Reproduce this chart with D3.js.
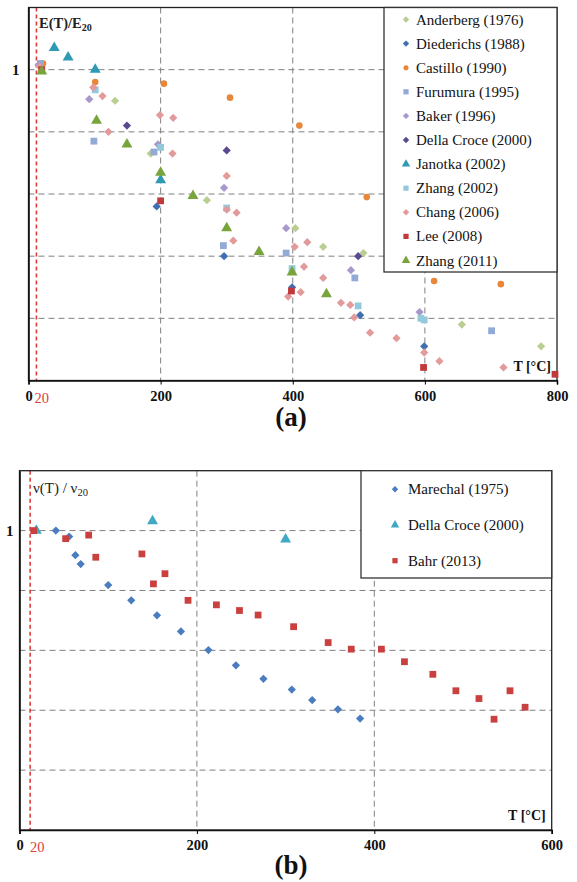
<!DOCTYPE html>
<html>
<head>
<meta charset="utf-8">
<script src="https://cdn.jsdelivr.net/npm/d3@7"></script>
<style>
  body { margin: 0; background: #fff; }
  svg { display: block; }
</style>
</head>
<body>
<script>
// ---- data: [T in °C, ratio] ----
// panel (a): E(T)/E20
var anderberg   = [[20, 1.0], [131, 0.90], [185, 0.73], [270, 0.58], [404, 0.49], [446, 0.43], [507, 0.41], [656, 0.18], [776, 0.11]];
var diederichs  = [[194, 0.56], [296, 0.40], [399, 0.30], [502, 0.21], [599, 0.11]];
var castillo    = [[22, 1.02], [101, 0.96], [205, 0.955], [305, 0.91], [410, 0.82], [512, 0.59], [614, 0.32], [715, 0.31]];
var furumura    = [[18, 1.02], [99, 0.77], [190, 0.735], [295, 0.434], [390, 0.41], [494, 0.33], [701, 0.16]];
var baker       = [[15, 1.015], [92, 0.905], [196, 0.76], [296, 0.62], [390, 0.49], [488, 0.355], [592, 0.22]];
var dellaCroceE = [[149, 0.82], [300, 0.74], [499, 0.40]];
var janotka     = [[39, 1.07], [60, 1.04], [101, 1.0], [200, 0.645]];
var zhang2002   = [[101, 0.935], [200, 0.75], [300, 0.555], [399, 0.36], [499, 0.24], [594, 0.20], [599, 0.195]];
var chang       = [[17, 1.01], [98, 0.943], [112, 0.915], [121, 0.80], [199, 0.854], [219, 0.845], [218, 0.73], [300, 0.658],
                   [300, 0.55], [315, 0.54], [310, 0.45], [403, 0.43], [422, 0.445], [417, 0.366], [446, 0.33], [412, 0.284],
                   [393, 0.27], [473, 0.25], [487, 0.243], [493, 0.203], [517, 0.154], [557, 0.136], [599, 0.09], [622, 0.062], [719, 0.042]];
var lee         = [[20, 1.0], [200, 0.578], [398, 0.288], [598, 0.042], [797, 0.02]];
var zhang2011   = [[20, 0.995], [103, 0.836], [149, 0.76], [200, 0.669], [249, 0.594], [300, 0.49], [349, 0.414], [399, 0.348], [451, 0.278]];

// panel (b): v(T)/v20
var marechal    = [[41, 1.0], [56, 0.98], [63, 0.918], [69, 0.888], [100, 0.818], [126, 0.767], [155, 0.717], [182, 0.663],
                   [213, 0.601], [244, 0.55], [275, 0.505], [307, 0.469], [330, 0.434], [359, 0.403], [384, 0.372]];
var dellaCroceV = [[19, 1.0], [150, 1.032], [300, 0.971]];
var bahr        = [[16, 1.0], [52, 0.973], [78, 0.985], [86, 0.911], [138, 0.922], [151, 0.822], [164, 0.856], [190, 0.767],
                   [222, 0.752], [248, 0.733], [269, 0.718], [309, 0.679], [348, 0.626], [374, 0.604], [408, 0.604],
                   [434, 0.562], [466, 0.52], [492, 0.465], [518, 0.439], [535, 0.37], [553, 0.465], [570, 0.41]];

var xTicksA = [0, 200, 400, 600, 800];
var xTicksB = [0, 200, 400, 600];
var yGrid = [0.2, 0.4, 0.6, 0.8, 1.0];
var yLabels = [1];
var refT = 20;       // reference temperature label
var refLineT = 12;   // where the red dashed line sits in the picture

var FONT = "'Liberation Serif', Tinos, 'Times New Roman', 'DejaVu Serif Condensed', 'DejaVu Serif', serif";

var svg = d3.select("body").append("svg")
    .attr("width", 577)
    .attr("height", 882);

// marker shapes
function marker(kind) {
    if (kind == "diamond") return { type: d3.symbolSquare, size: 34, rot: 45 };
    if (kind == "square") return { type: d3.symbolSquare, size: 46, rot: 0 };
    if (kind == "triangle") return { type: d3.symbolTriangle, size: 52, rot: 0 };
    return { type: d3.symbolCircle, size: 34, rot: 0 };
}

function drawPanel(p) {
    var x = d3.scaleLinear().domain([0, p.xMax]).range([p.left, p.right]);
    var y = d3.scaleLinear().domain([0, 1.2]).range([p.bottom, p.top]);
    var g = svg.append("g");

    // grid
    g.selectAll(".hgrid").data(yGrid).enter().append("line")
        .attr("x1", p.left).attr("x2", p.right)
        .attr("y1", function(d) { return y(d); }).attr("y2", function(d) { return y(d); })
        .attr("stroke", "#808080").attr("stroke-width", 1).attr("stroke-dasharray", "6,4");
    g.selectAll(".vgrid").data(p.xTicks.slice(1, -1)).enter().append("line")
        .attr("x1", function(d) { return x(d); }).attr("x2", function(d) { return x(d); })
        .attr("y1", p.top).attr("y2", p.bottom)
        .attr("stroke", "#808080").attr("stroke-width", 1).attr("stroke-dasharray", "6,4");

    // red reference line
    g.append("line")
        .attr("x1", x(refLineT)).attr("x2", x(refLineT))
        .attr("y1", p.top).attr("y2", p.bottom)
        .attr("stroke", "#e03c3c").attr("stroke-width", 1.6).attr("stroke-dasharray", "4,3");

    // frame
    g.append("rect")
        .attr("x", p.left).attr("y", p.top)
        .attr("width", p.right - p.left).attr("height", p.bottom - p.top)
        .attr("fill", "none").attr("stroke", "#222").attr("stroke-width", 1.3);

    // axes
    var xAxis = g.append("g")
        .attr("transform", "translate(0," + p.bottom + ")")
        .call(d3.axisBottom(x).tickValues(p.xTicks).tickSize(4).tickFormat(d3.format("d")));
    xAxis.attr("font-family", FONT);
    xAxis.select(".domain").attr("stroke", "#111").attr("stroke-width", 1.6);
    xAxis.selectAll("text")
        .attr("font-family", FONT).attr("font-size", 14.5).attr("font-weight", "bold")
        .attr("fill", "#111").attr("dy", "0.9em");

    var yAxis = g.append("g")
        .attr("transform", "translate(" + p.left + ",0)")
        .call(d3.axisLeft(y).tickValues(yLabels).tickSize(0).tickPadding(p.yPad).tickFormat(d3.format("d")));
    yAxis.attr("font-family", FONT);
    yAxis.select(".domain").attr("stroke", "#111").attr("stroke-width", 1.6);
    yAxis.selectAll("text")
        .attr("font-family", FONT).attr("font-size", 15).attr("font-weight", "bold").attr("fill", "#111");

    g.append("text")
        .attr("x", x(refT)).attr("y", p.bottom + 22)
        .attr("text-anchor", "middle")
        .attr("font-family", FONT).attr("font-size", 14.5).attr("fill", "#e03c3c")
        .text(refT);

    // points
    p.series.forEach(function(s) {
        var m = marker(s.shape);
        var sym = d3.symbol().type(m.type).size(m.size);
        g.append("g").selectAll("path").data(s.data).enter().append("path")
            .attr("d", sym)
            .attr("transform", function(d) {
                return "translate(" + x(d[0]) + "," + y(d[1]) + ") rotate(" + m.rot + ")";
            })
            .attr("fill", s.color);
    });

    // legend
    var L = p.legend;
    g.append("rect")
        .attr("x", L.x0).attr("y", L.y0)
        .attr("width", L.x1 - L.x0).attr("height", L.y1 - L.y0)
        .attr("fill", "#fff").attr("stroke", "#333").attr("stroke-width", 1.3);
    p.series.forEach(function(s, i) {
        var ly = L.first + i * L.step;
        var m = marker(s.shape);
        g.append("path")
            .attr("d", d3.symbol().type(m.type).size(m.size * 0.6))
            .attr("transform", "translate(" + L.mx + "," + ly + ") rotate(" + m.rot + ")")
            .attr("fill", s.color);
        g.append("text")
            .attr("x", L.tx).attr("y", ly + 5)
            .attr("font-family", FONT).attr("font-size", 15).attr("fill", "#111")
            .text(s.name);
    });

    // axis titles
    g.append("text")
        .attr("x", p.right - 6).attr("y", p.bottom - 10)
        .attr("text-anchor", "end")
        .attr("font-family", FONT).attr("font-size", 14).attr("font-weight", "bold").attr("fill", "#111")
        .text("T [°C]");

    var yt = g.append("text")
        .attr("x", p.yTitleX).attr("y", p.yTitleY)
        .attr("font-family", FONT).attr("font-size", p.yTitleSize)
        .attr("font-weight", p.yTitleBold ? "bold" : "normal").attr("fill", "#222");
    yt.append("tspan").text(p.yTitle[0]);
    yt.append("tspan").attr("font-size", p.yTitleSize * 0.7).attr("dy", 3).text(p.yTitle[1]);

    // panel letter
    svg.append("text")
        .attr("x", 291).attr("y", p.letterY)
        .attr("text-anchor", "middle")
        .attr("font-family", FONT).attr("font-size", 27).attr("font-weight", "bold").attr("fill", "#111")
        .text(p.letter);
}

drawPanel({
    left: 28.5, right: 557, top: 7.5, bottom: 380.5, xMax: 800, xTicks: xTicksA, yPad: 9,
    series: [
        { name: "Anderberg (1976)",   data: anderberg,   shape: "diamond",  color: "#b9cf92" },
        { name: "Diederichs (1988)",  data: diederichs,  shape: "diamond",  color: "#3f70b2" },
        { name: "Castillo (1990)",    data: castillo,    shape: "circle",   color: "#e8863a" },
        { name: "Furumura (1995)",    data: furumura,    shape: "square",   color: "#93a9d6" },
        { name: "Baker (1996)",       data: baker,       shape: "diamond",  color: "#a898cc" },
        { name: "Della Croce (2000)", data: dellaCroceE, shape: "diamond",  color: "#5b4a8f" },
        { name: "Janotka (2002)",     data: janotka,     shape: "triangle", color: "#2e9ab3" },
        { name: "Zhang (2002)",       data: zhang2002,   shape: "square",   color: "#92cadb" },
        { name: "Chang (2006)",       data: chang,       shape: "diamond",  color: "#e29a9a" },
        { name: "Lee (2008)",         data: lee,         shape: "square",   color: "#c0393b" },
        { name: "Zhang (2011)",       data: zhang2011,   shape: "triangle", color: "#78a43c" }
    ],
    legend: { x0: 384, x1: 557, y0: 7.5, y1: 272, first: 19.5, step: 24.1, mx: 406, tx: 416 },
    yTitle: ["E(T)/E", "20"], yTitleX: 39, yTitleY: 28, yTitleSize: 14.5, yTitleBold: true,
    letter: "(a)", letterY: 426
});

drawPanel({
    left: 19.5, right: 551.7, top: 470.7, bottom: 830, xMax: 600, xTicks: xTicksB, yPad: 6,
    series: [
        { name: "Marechal (1975)",    data: marechal,    shape: "diamond",  color: "#4a7cc0" },
        { name: "Della Croce (2000)", data: dellaCroceV, shape: "triangle", color: "#3fa9c4" },
        { name: "Bahr (2013)",        data: bahr,        shape: "square",   color: "#c9403f" }
    ],
    legend: { x0: 361, x1: 551.7, y0: 470.7, y1: 578, first: 489.3, step: 35.7, mx: 395, tx: 408 },
    yTitle: ["ν(T) / ν", "20"], yTitleX: 33, yTitleY: 493, yTitleSize: 15, yTitleBold: false,
    letter: "(b)", letterY: 874
});
</script>
</body>
</html>
